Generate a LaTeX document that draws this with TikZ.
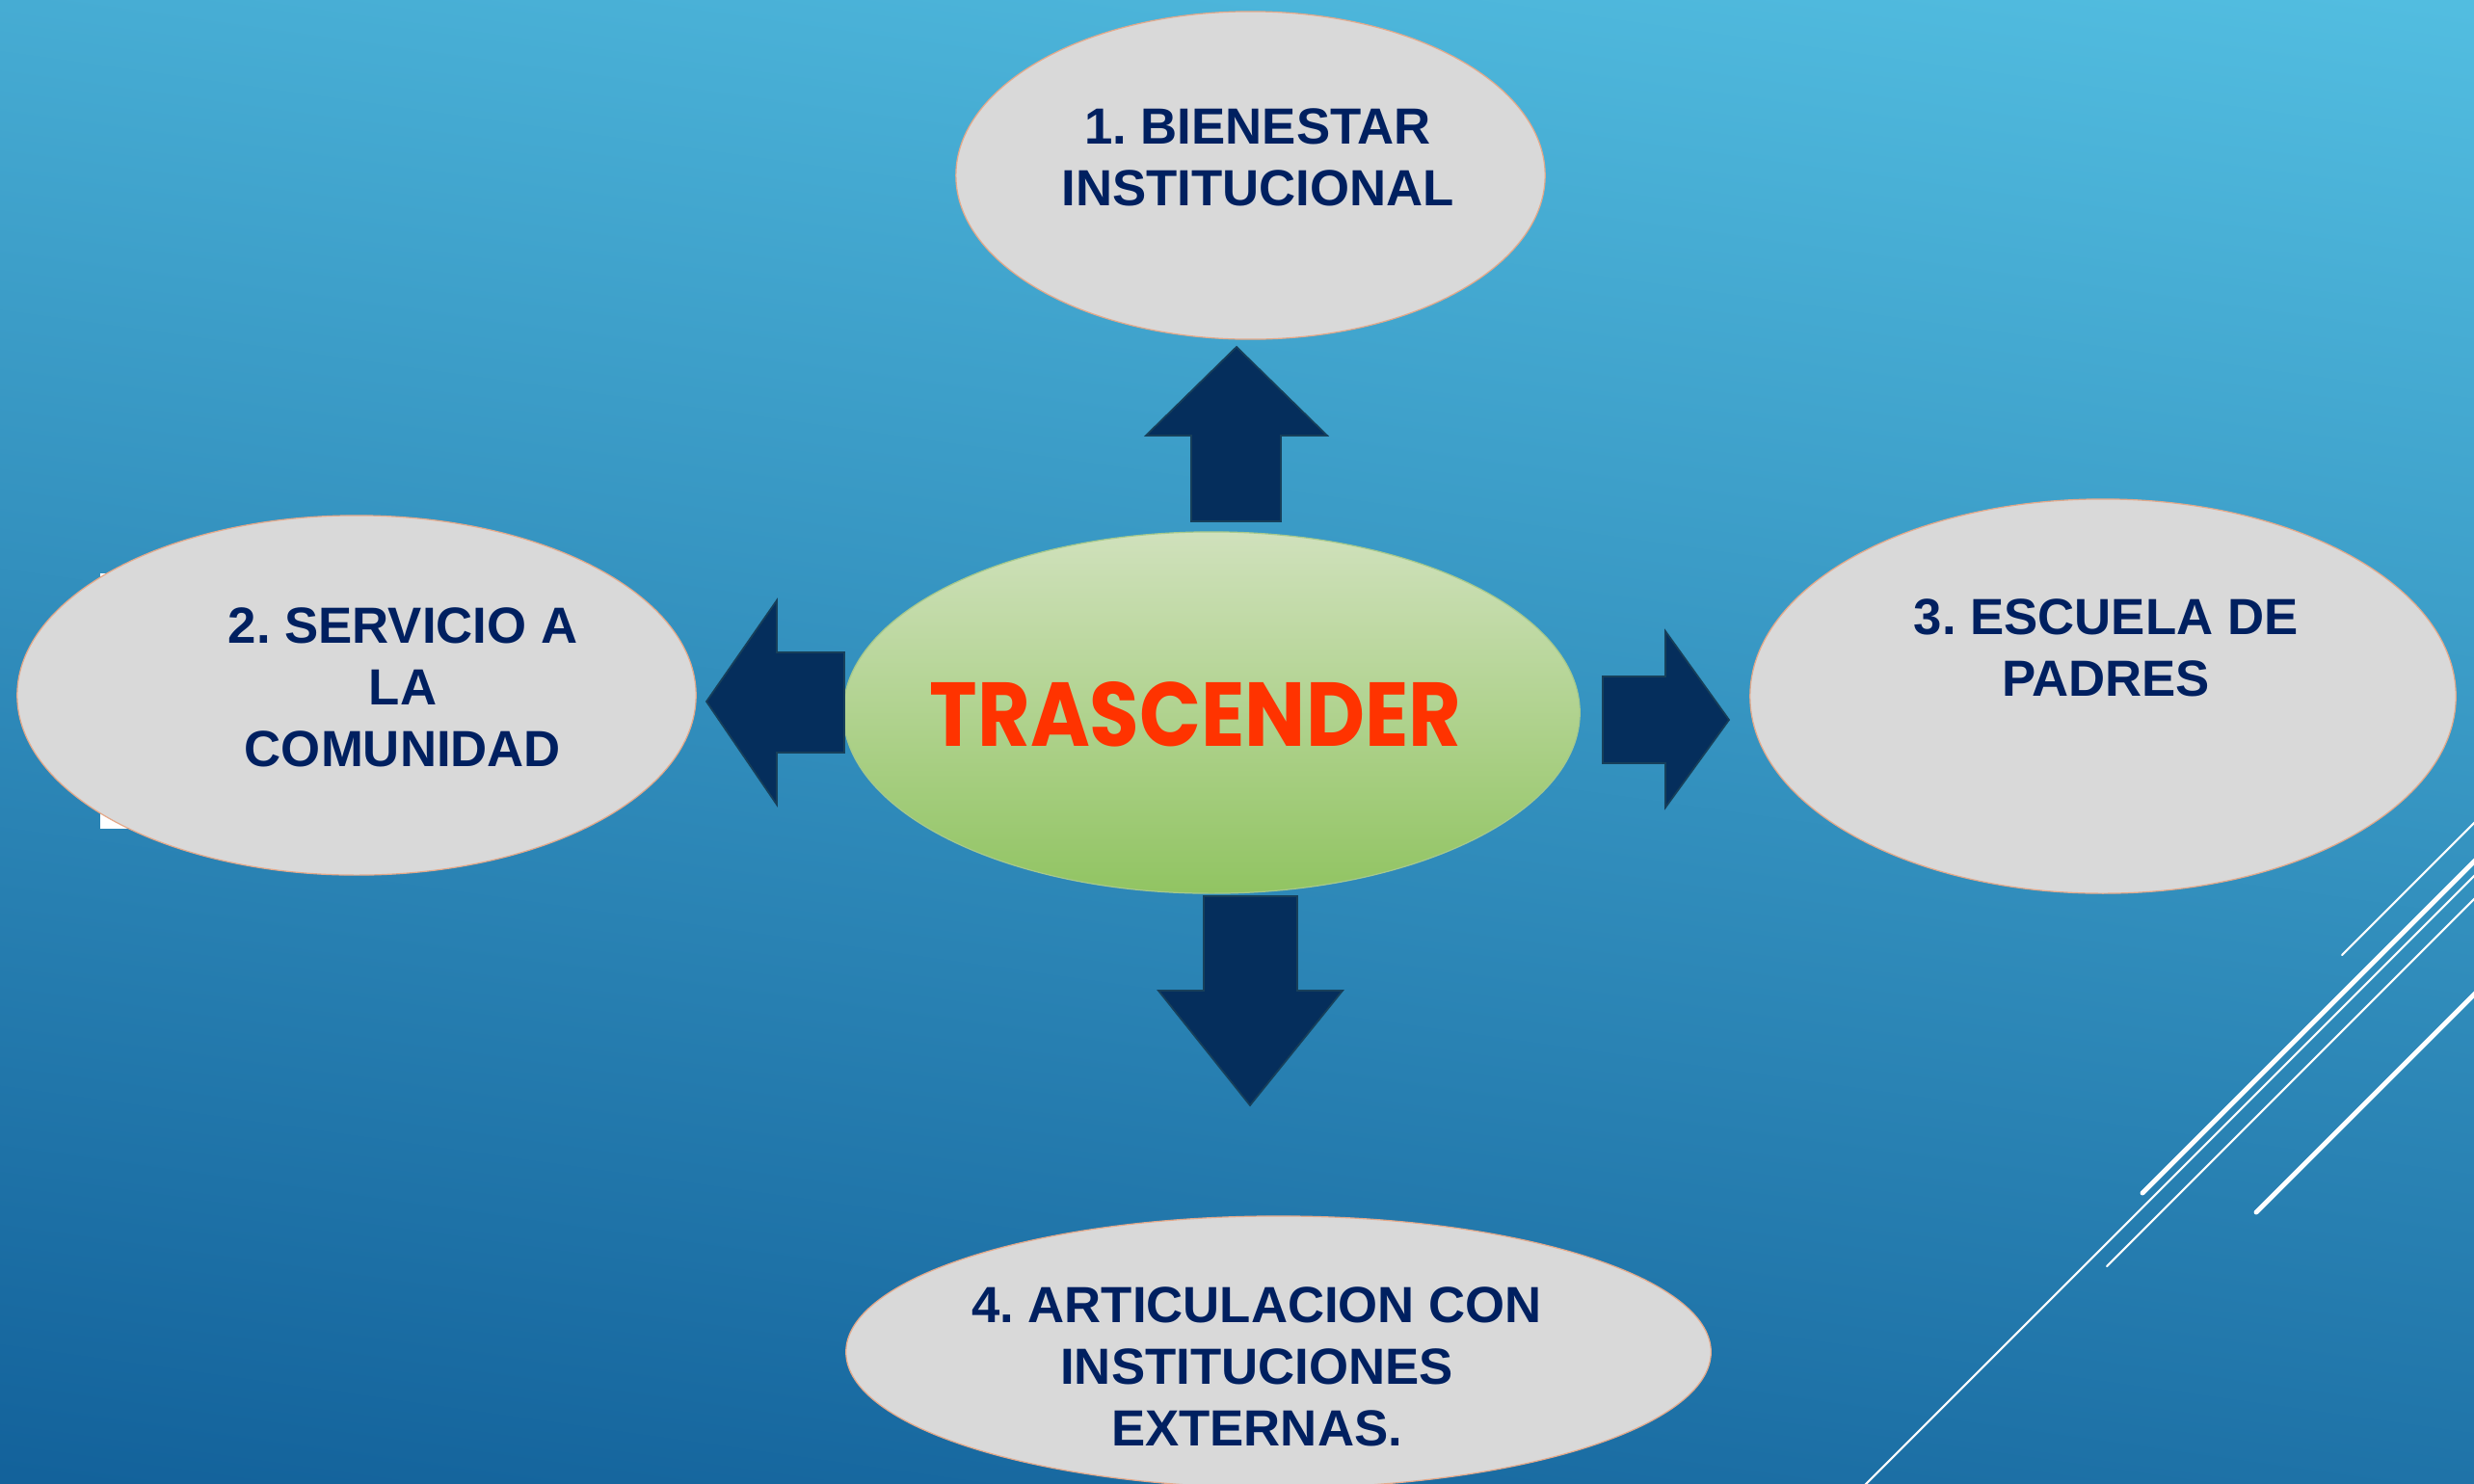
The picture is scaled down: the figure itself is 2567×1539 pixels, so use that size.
\documentclass[tikz,border=0pt]{standalone}
\usepackage{fontspec}
\setmainfont{Liberation Sans}
\newfontfamily\gothic{Poppins}
\usetikzlibrary{shapes.geometric}
\definecolor{bgtop}{HTML}{52BDE0}
\definecolor{bgmid}{HTML}{3292C0}
\definecolor{bgbot}{HTML}{13629B}
\definecolor{grisoval}{HTML}{D9D9D9}
\definecolor{bordeoval}{HTML}{E4A98A}
\definecolor{azultexto}{HTML}{002060}
\definecolor{azulflecha}{HTML}{052E5C}
\definecolor{bordeflecha}{HTML}{173F5A}
\definecolor{verdearriba}{HTML}{D0E1BC}
\definecolor{verdeabajo}{HTML}{91C462}
\definecolor{bordeverde}{HTML}{A6C98C}
\definecolor{rojotexto}{HTML}{FF3300}
\frenchspacing

\begin{document}
\begin{tikzpicture}[x=0.01cm,y=-0.01cm]
\tikzset{bubble/.style = {shape=ellipse,draw=bordeoval,line width=0.35pt,fill=grisoval,inner sep=0pt}}
\tikzset{rotulo/.style = {text=azultexto,font=\bfseries\fontsize{15}{18.2}\selectfont,align=center}}
\tikzset{bloque/.style = {fill=azulflecha,draw=bordeflecha,line width=0.5pt}}
\tikzset{raya/.style = {white,line cap=round}}
% background
\useasboundingbox (0,0) rectangle (2567,1539);
\clip (0,0) rectangle (2567,1539);
\shade[top color=bgtop,middle color=bgmid,bottom color=bgbot,shading angle=-8] (-100,-100) rectangle (2667,1639);
\fill[white] (104,595) rectangle (170,860);
% lines
\draw[raya,line width=0.6pt] (2430,991) -- (2600,821);
\draw[raya,line width=1.4pt] (2223,1238) -- (2600,861);
\draw[raya,line width=0.6pt] (1900,1576) -- (2600,876);
\draw[raya,line width=0.6pt] (2186,1314) -- (2600,900);
\draw[raya,line width=1.4pt] (2341,1258) -- (2600,999);
% vertices
\node[bubble,minimum width=6.11cm,minimum height=3.40cm] (bienestar) at (1297.5,182) {};
\node[bubble,minimum width=7.04cm,minimum height=3.73cm] (servicio) at (370,721.5) {};
\node[bubble,minimum width=7.32cm,minimum height=4.09cm] (escuela) at (2182,722.5) {};
\node[bubble,minimum width=8.97cm,minimum height=2.82cm] (articulacion) at (1326.5,1403) {};
\node[shape=ellipse,inner sep=0pt,draw=bordeverde,line width=0.35pt,top color=verdearriba,bottom color=verdeabajo,minimum width=7.64cm,minimum height=3.75cm] (centro) at (1257,739.5) {};
% labels
\node[rotulo] (tbienestar) at (1305,163.5) {1. BIENESTAR\\INSTITUCIONAL};
\node[rotulo] (tservicio) at (418,713.5) {2. SERVICIO A\\LA\\COMUNIDAD};
\node[rotulo] (tescuela) at (2185,672.5) {3. ESCUELA DE\\PADRES};
\node[rotulo] (tarticulacion) at (1304,1418) {4. ARTICULACION CON\\INSTITUCIONES\\EXTERNAS.};
\node[text=rojotexto] (trascender) at (1240.5,741.5) {\resizebox{5.51cm}{0.67cm}{\gothic\bfseries TRASCENDER}};
% arrows
\filldraw[bloque] (1283,360) -- (1377,452) -- (1329,452) -- (1329,541) -- (1236,541) -- (1236,452) -- (1189,452) -- cycle;
\filldraw[bloque] (733,728) -- (806,623) -- (806,677) -- (876,677) -- (876,781) -- (806,781) -- (806,835) -- cycle;
\filldraw[bloque] (1794,747) -- (1728,655) -- (1728,702) -- (1663,702) -- (1663,792) -- (1728,792) -- (1728,838) -- cycle;
\filldraw[bloque] (1297,1147) -- (1202,1028) -- (1249,1028) -- (1249,930) -- (1346,930) -- (1346,1028) -- (1393,1028) -- cycle;
\end{tikzpicture}
\end{document}
